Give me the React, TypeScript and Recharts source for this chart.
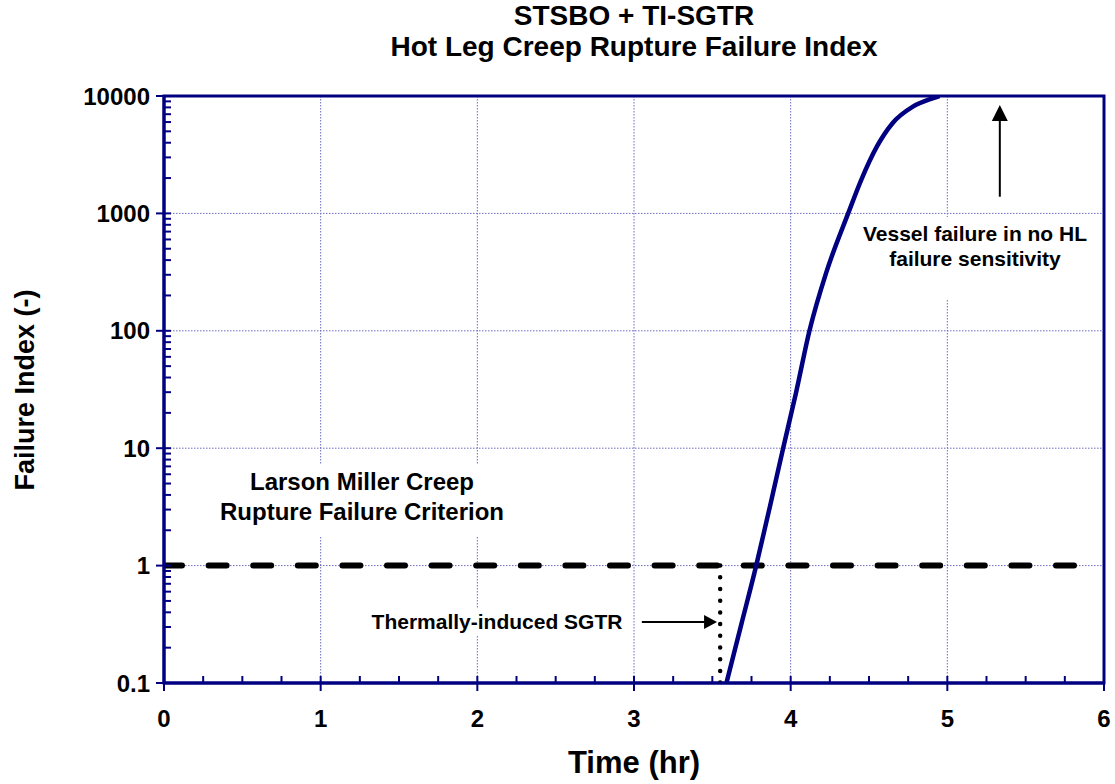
import React from "react";
import {
  ComposedChart,
  Line,
  XAxis,
  YAxis,
  CartesianGrid,
  ReferenceArea,
  ReferenceLine,
  ReferenceDot,
} from "recharts";

// hot leg failure index curve
const hours = [3.59, 3.685, 3.78, 3.867, 3.952, 4.035, 4.12, 4.228, 4.367, 4.45, 4.55, 4.65, 4.78, 4.91, 4.95];
const failureIndex = [0.1, 0.316, 1, 3.16, 10, 30, 100, 316, 1000, 1923, 3700, 5860, 8110, 9600, 10000];

// Larson Miller criterion (failure index = 1) and the TI-SGTR marker
const criterionHours = [0, 5.86];
const criterionIndex = [1, 1];
const sgtrHours = [3.55, 3.55];
const sgtrIndex = [1, 0.1];

const xTicks = [0, 1, 2, 3, 4, 5, 6];
const yTicks = [0.1, 1, 10, 100, 1000, 10000];
const xMinorTicks = [0.25, 0.5, 0.75, 1, 1.25, 1.5, 1.75, 2, 2.25, 2.5, 2.75, 3, 3.25, 3.5, 3.75, 4, 4.25, 4.5, 4.75, 5, 5.25, 5.5, 5.75];
const decades = [0.1, 1, 10, 100, 1000];
const mantissas = [1, 2, 3, 4, 5, 6, 7, 8, 9];
const yMinorTicks = decades.flatMap((d) => mantissas.map((m) => +(d * m).toPrecision(3))).slice(1);

const curve = hours.map((t, i) => ({ t, v: failureIndex[i] }));
const criterion = criterionHours.map((t, i) => ({ t, v: criterionIndex[i] }));
const sgtr = sgtrHours.map((t, i) => ({ t, v: sgtrIndex[i] }));

const NAVY = "#000080";
const FONT = "'Liberation Sans', Arial, sans-serif";

const RightArrowHead = (p: any) => (
  <path d={`M${p.cx},${p.cy} L${p.cx - 13},${p.cy - 7} L${p.cx - 13},${p.cy + 7} Z`} fill="#000" />
);
const UpArrowHead = (p: any) => (
  <path d={`M${p.cx},${p.cy} L${p.cx - 8},${p.cy + 16} L${p.cx + 8},${p.cy + 16} Z`} fill="#000" />
);

const boldText: React.CSSProperties = {
  position: "absolute",
  fontFamily: FONT,
  fontWeight: "bold",
  color: "#000",
  textAlign: "center",
  whiteSpace: "nowrap",
};

export default function App() {
  return (
    <div style={{ position: "absolute", left: 0, top: 0, width: 1115, height: 784, background: "#fff" }}>
      <ComposedChart
        width={1115}
        height={784}
        margin={{ top: 96, right: 11, bottom: 71, left: 104 }}
        style={{ fontFamily: FONT }}
      >
        <CartesianGrid stroke="#6c6cc0" strokeDasharray="1.5 1.5" strokeWidth={1} />
        <XAxis
          dataKey="t"
          type="number"
          domain={[0, 6]}
          ticks={xTicks}
          interval={0}
          allowDataOverflow
          axisLine={{ stroke: NAVY, strokeWidth: 3 }}
          tickLine={{ stroke: NAVY, strokeWidth: 2 }}
          tickSize={8}
          tickMargin={19}
          tick={{ fill: "#000", fontSize: 24, fontWeight: "bold" }}
        />
        <XAxis
          xAxisId="minor"
          dataKey="t"
          type="number"
          domain={[0, 6]}
          ticks={xMinorTicks}
          interval={0}
          allowDataOverflow
          mirror
          axisLine={false}
          tickLine={{ stroke: NAVY, strokeWidth: 2 }}
          tickSize={7}
          tickFormatter={() => ""}
        />
        <YAxis
          type="number"
          scale="log"
          domain={[0.1, 10000]}
          ticks={yTicks}
          interval={0}
          allowDataOverflow
          axisLine={{ stroke: NAVY, strokeWidth: 3 }}
          tickLine={{ stroke: NAVY, strokeWidth: 2 }}
          tickSize={8}
          tickMargin={6}
          tickFormatter={(v: number) => String(v)}
          tick={{ fill: "#000", fontSize: 24, fontWeight: "bold" }}
        />
        <YAxis
          yAxisId="minor"
          type="number"
          scale="log"
          domain={[0.1, 10000]}
          ticks={yMinorTicks}
          interval={0}
          allowDataOverflow
          mirror
          axisLine={false}
          tickLine={{ stroke: NAVY, strokeWidth: 2 }}
          tickSize={7}
          tickFormatter={() => ""}
        />
        <ReferenceArea x1={0} x2={6} y1={0.1} y2={10000} fill="none" stroke={NAVY} strokeWidth={3} />

        <Line
          data={criterion}
          dataKey="v"
          stroke="#000"
          strokeWidth={6}
          strokeDasharray="18 26.6"
          strokeLinecap="round"
          dot={false}
          isAnimationActive={false}
        />
        <Line
          data={sgtr}
          dataKey="v"
          stroke="#000"
          strokeWidth={4.5}
          strokeDasharray="0 11.7"
          strokeLinecap="round"
          dot={false}
          isAnimationActive={false}
        />
        <Line
          data={curve}
          dataKey="v"
          type="monotone"
          stroke={NAVY}
          strokeWidth={4.5}
          dot={false}
          isAnimationActive={false}
        />

        <ReferenceLine segment={[{ x: 3.05, y: 0.331 }, { x: 3.46, y: 0.331 }]} stroke="#000" strokeWidth={2} />
        <ReferenceDot x={3.53} y={0.331} shape={RightArrowHead} />
        <ReferenceLine segment={[{ x: 5.335, y: 1387 }, { x: 5.335, y: 6300 }]} stroke="#000" strokeWidth={2} />
        <ReferenceDot x={5.335} y={8380} shape={UpArrowHead} />
      </ComposedChart>

      <div style={{ ...boldText, left: 164, width: 940, top: 0, fontSize: 28, lineHeight: "31px" }}>
        STSBO + TI-SGTR
        <br />
        Hot Leg Creep Rupture Failure Index
      </div>
      <div style={{ ...boldText, left: 534, width: 200, top: 745, fontSize: 31, lineHeight: "36px" }}>
        Time (hr)
      </div>
      <div
        style={{
          ...boldText,
          left: 25 - 150,
          width: 300,
          top: 390 - 16,
          fontSize: 27,
          lineHeight: "32px",
          transform: "rotate(-90deg)",
        }}
      >
        Failure Index (-)
      </div>
      <div
        style={{ ...boldText, left: 212, width: 300, top: 465, height: 72, fontSize: 24, lineHeight: "30px", background: "#fff", paddingTop: 2, boxSizing: "border-box" }}
      >
        Larson Miller Creep
        <br />
        Rupture Failure Criterion
      </div>
      <div
        style={{ ...boldText, left: 852, width: 246, top: 217, height: 83, fontSize: 21, lineHeight: "25px", background: "#fff", paddingTop: 4, boxSizing: "border-box" }}
      >
        Vessel failure in no HL
        <br />
        failure sensitivity
      </div>
      <div style={{ ...boldText, left: 364, width: 266, top: 608, fontSize: 21, lineHeight: "28px", background: "#fff" }}>
        Thermally-induced SGTR
      </div>
    </div>
  );
}
